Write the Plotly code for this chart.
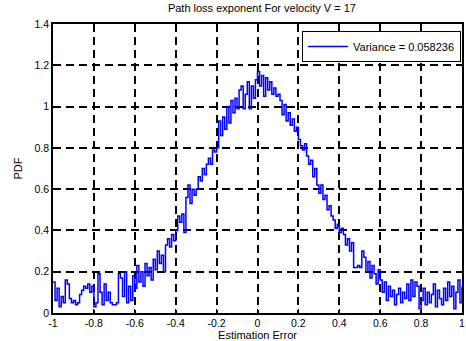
import numpy as np
import plotly.graph_objects as go

title_text = "Path loss exponent For velocity V = 17"
legend_label = "Variance = 0.058236"
x_title = "Estimation Error"
y_title = "PDF"

x_start = -1.0
x_step = 0.01
pdf_values = [
    0.15, 0.06, 0.12, 0.03, 0.08, 0.05, 0.16, 0.14, 0.07, 0.05,
    0.06, 0.04, 0.05, 0.09, 0.11, 0.13, 0.12, 0.14, 0.10, 0.13,
    0.03, 0.05, 0.19, 0.10, 0.04, 0.14, 0.06, 0.10, 0.05, 0.04,
    0.04, 0.05, 0.19, 0.17, 0.08, 0.20, 0.05, 0.13, 0.06, 0.18,
    0.12, 0.23, 0.15, 0.20, 0.13, 0.24, 0.18, 0.22, 0.16, 0.26,
    0.21, 0.30, 0.24, 0.28, 0.20, 0.33, 0.36, 0.32, 0.38, 0.35,
    0.40, 0.47, 0.44, 0.48, 0.39, 0.56, 0.62, 0.53, 0.60, 0.57,
    0.60, 0.66, 0.64, 0.70, 0.67, 0.72, 0.75, 0.72, 0.79, 0.78,
    0.80, 0.93, 0.86, 0.95, 0.89, 1.00, 0.92, 1.03, 0.97, 1.04,
    0.99, 1.08, 1.10, 0.99, 1.06, 1.12, 0.99, 1.10, 1.04, 1.13,
    1.17, 1.10, 1.15, 1.05, 1.14, 1.08, 1.12, 1.06, 1.09, 1.05,
    1.06, 1.03, 0.96, 1.01, 0.93, 0.97, 0.91, 0.94, 0.88, 0.90,
    0.84, 0.81, 0.79, 0.82, 0.76, 0.72, 0.74, 0.66, 0.70, 0.62,
    0.58, 0.62, 0.55, 0.57, 0.50, 0.52, 0.47, 0.45, 0.41, 0.43,
    0.39, 0.41, 0.38, 0.33, 0.36, 0.30, 0.34, 0.22, 0.22, 0.23,
    0.22, 0.30, 0.27, 0.20, 0.25, 0.17, 0.23, 0.19, 0.14, 0.21,
    0.16, 0.10, 0.15, 0.06, 0.13, 0.08, 0.11, 0.04, 0.09, 0.12,
    0.05, 0.10, 0.07, 0.14, 0.06, 0.16, 0.08, 0.15, 0.13, 0.02,
    0.06, 0.12, 0.04, 0.10, 0.05, 0.09, 0.14, 0.03, 0.11, 0.07,
    0.04, 0.12, 0.06, 0.15, 0.08, 0.13, 0.02, 0.10, 0.16, 0.05, 0.13,
]
x_values = [round(x_start + i * x_step, 2) for i in range(len(pdf_values))]

x_ticks = [-1, -0.8, -0.6, -0.4, -0.2, 0, 0.2, 0.4, 0.6, 0.8, 1]
x_tick_labels = ["-1", "-0.8", "-0.6", "-0.4", "-0.2", "0", "0.2", "0.4", "0.6", "0.8", "1"]
y_ticks = [0, 0.2, 0.4, 0.6, 0.8, 1, 1.2, 1.4]
y_tick_labels = ["0", "0.2", "0.4", "0.6", "0.8", "1", "1.2", "1.4"]

font_family = "Liberation Sans, Arial, sans-serif"

fig = go.Figure()
fig.add_trace(go.Scatter(
    x=x_values, y=pdf_values, mode="lines", line_shape="hv",
    line=dict(color="#0000ff", width=1.5), name=legend_label, showlegend=True,
))

axis_common = dict(
    showline=True, linecolor="black", linewidth=1.5, mirror="ticks",
    ticks="inside", ticklen=4, tickcolor="black", tickwidth=1.2,
    showgrid=True, gridcolor="black", gridwidth=1.5, griddash="8px,5px",
    zeroline=False, tickfont=dict(size=10.5, color="black", family=font_family),
)

fig.update_layout(
    width=466, height=341,
    margin=dict(l=53, r=2, t=24, b=28),
    paper_bgcolor="white", plot_bgcolor="white",
    title=dict(text=title_text, x=0.562, xanchor="center", y=0.977, yanchor="middle",
               font=dict(size=11, color="black", family=font_family)),
    font=dict(family=font_family, color="black"),
    xaxis=dict(range=[-1, 1], tickvals=x_ticks, ticktext=x_tick_labels,
               title=dict(text=x_title, font=dict(size=11), standoff=0), **axis_common),
    yaxis=dict(range=[0, 1.4], tickvals=y_ticks, ticktext=y_tick_labels,
               title=dict(text=y_title, font=dict(size=11), standoff=10), **axis_common),
    legend=dict(x=0.9976, y=0.976, xanchor="right", yanchor="top",
                bgcolor="white", bordercolor="black", borderwidth=1,
                font=dict(size=11, color="black"), itemwidth=40,
                tracegroupgap=0),
)

fig.write_html("out.html", config={"displayModeBar": False},
               post_script="document.body.style.margin='0px';")
